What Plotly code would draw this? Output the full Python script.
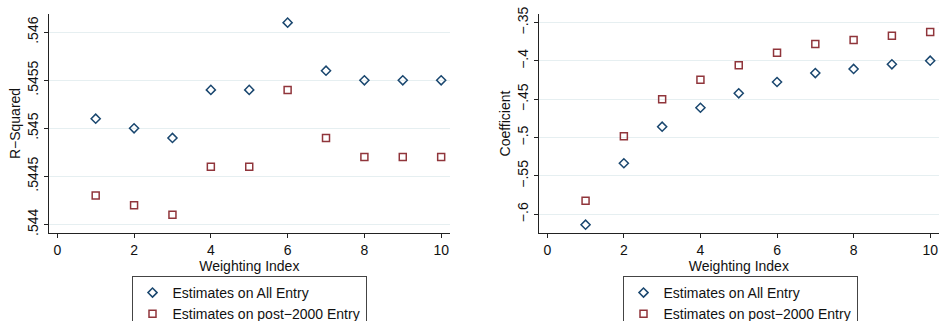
import plotly.graph_objects as go

weights = [1, 2, 3, 4, 5, 6, 7, 8, 9, 10]

r2_all = [0.5451, 0.5450, 0.5449, 0.5454, 0.5454, 0.5461, 0.5456, 0.5455, 0.5455, 0.5455]
r2_post = [0.5443, 0.5442, 0.5441, 0.5446, 0.5446, 0.5454, 0.5449, 0.5447, 0.5447, 0.5447]

coef_all = [-0.6136, -0.5334, -0.4857, -0.4610, -0.4422, -0.4274, -0.4157, -0.4104, -0.4043, -0.3996]
coef_post = [-0.5822, -0.4982, -0.4500, -0.4244, -0.4056, -0.3892, -0.3778, -0.3726, -0.3670, -0.3622]

x_ticks = [0, 2, 4, 6, 8, 10]
r2_ticks = [0.544, 0.5445, 0.545, 0.5455, 0.546]
r2_labels = [".544", ".5445", ".545", ".5455", ".546"]
coef_ticks = [-0.6, -0.55, -0.5, -0.45, -0.4, -0.35]
coef_labels = ["\u2212.6", "\u2212.55", "\u2212.5", "\u2212.45", "\u2212.4", "\u2212.35"]

name_all = "Estimates on All Entry"
name_post = "Estimates on post\u22122000 Entry"

NAVY = "#1a476f"
MAROON = "#90353b"
FONT = "Liberation Sans, Arial, sans-serif"

fig = go.Figure()

def add(x, y, name, color, symbol, xa, ya, leg):
    fig.add_trace(go.Scatter(
        x=x, y=y, mode="markers", name=name,
        marker=dict(symbol=symbol, size=7, color=color, line=dict(color=color, width=1.5)),
        xaxis=xa, yaxis=ya, legend=leg, showlegend=True,
    ))

add(weights, r2_all, name_all, NAVY, "diamond-open", "x", "y", "legend")
add(weights, r2_post, name_post, MAROON, "square-open", "x", "y", "legend")
add(weights, coef_all, name_all, NAVY, "diamond-open", "x2", "y2", "legend2")
add(weights, coef_post, name_post, MAROON, "square-open", "x2", "y2", "legend2")

W, H = 939, 321
T, B = 14, 88
plot_h = H - T - B

axis_common = dict(
    showline=True, linecolor="#222222", linewidth=1.2,
    ticks="outside", ticklen=4, tickcolor="#222222", tickwidth=1,
    tickfont=dict(family=FONT, size=14, color="#111111"),
    zeroline=False, automargin=False,
)

xcommon = dict(axis_common, range=[-0.224, 10.23], tickvals=x_ticks, showgrid=False,
               title=dict(text="Weighting Index", font=dict(family=FONT, size=14, color="#111111"), standoff=2))

leg_y = (T + plot_h - 276) / plot_h
leg_common = dict(yanchor="top", xanchor="center", y=leg_y,
                  bordercolor="#444444", borderwidth=1, bgcolor="white",
                  font=dict(family=FONT, size=14, color="#111111"), tracegroupgap=0)

fig.update_layout(
    width=W, height=H,
    margin=dict(l=0, r=0, t=T, b=B, autoexpand=False),
    paper_bgcolor="white", plot_bgcolor="white",
    font=dict(family=FONT, size=14, color="#111111"),
    xaxis=dict(xcommon, domain=[48.7 / W, 450.0 / W], anchor="y"),
    xaxis2=dict(xcommon, domain=[538.7 / W, 1.0], anchor="y2"),
    yaxis=dict(axis_common, range=[0.54391, 0.54619], tickvals=r2_ticks, ticktext=r2_labels,
               tickangle=-90, showgrid=True, gridcolor="#e6eff1", gridwidth=1, anchor="x",
               title=dict(text="R\u2212Squared", font=dict(family=FONT, size=14, color="#111111"), standoff=1)),
    yaxis2=dict(axis_common, range=[-0.6244, -0.3387], tickvals=coef_ticks, ticktext=coef_labels,
                tickangle=-90, showgrid=True, gridcolor="#e6eff1", gridwidth=1, anchor="x2",
                title=dict(text="Coefficient", font=dict(family=FONT, size=14, color="#111111"), standoff=1)),
    legend=dict(leg_common, x=249 / W),
    legend2=dict(leg_common, x=740 / W),
)

fig.write_html("out.html", config={"displayModeBar": False},
               post_script="document.body.style.margin='0';document.body.style.overflow='hidden';")
